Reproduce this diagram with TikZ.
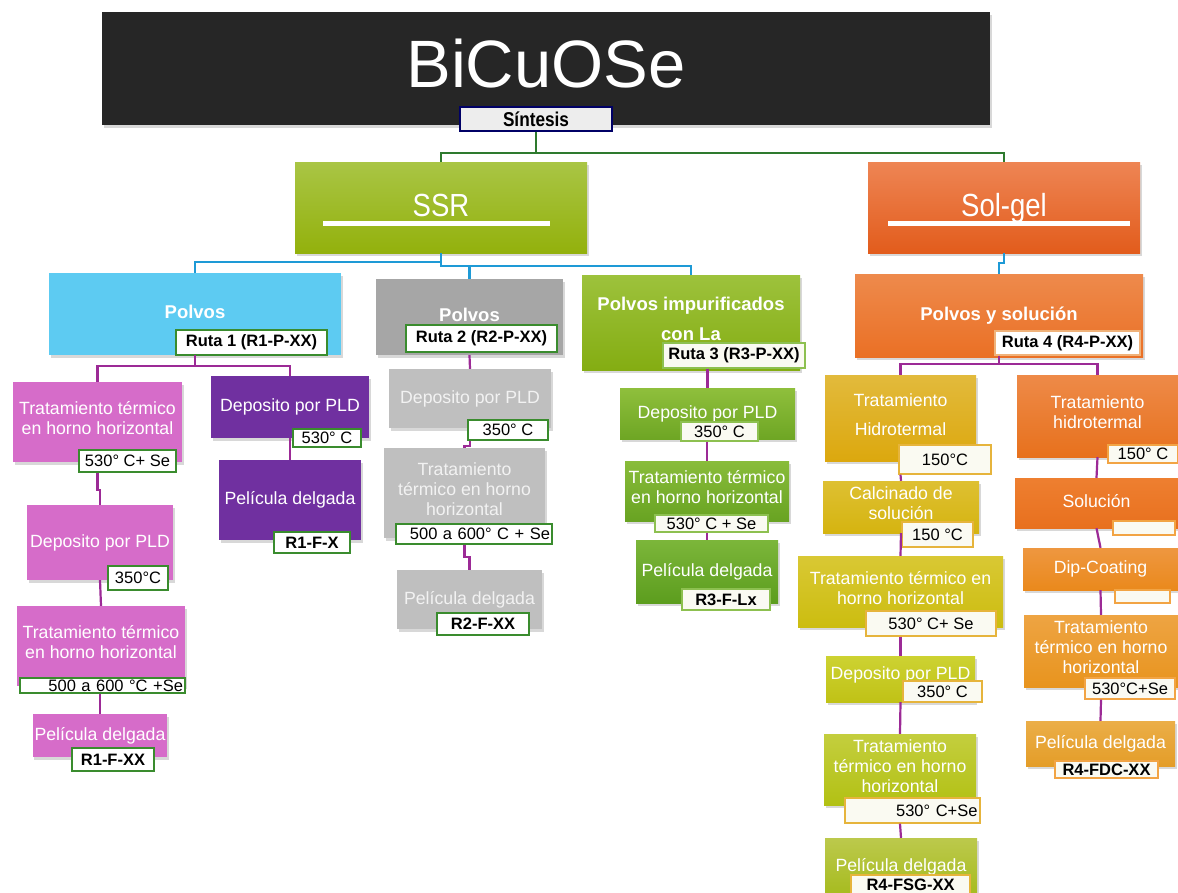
\documentclass[tikz,border=0pt]{standalone}
\usepackage{fontspec}
\setmainfont{Liberation Sans}
\newfontfamily\condfont[FakeStretch=0.86]{Liberation Sans}
\usetikzlibrary{shadows}
\newcommand\fsz[1]{\fontsize{#1}{\dimexpr #1pt*113/100\relax}\selectfont}
\newcommand\txtbeg{\rule{0pt}{17pt}}
\newcommand\txtend{\rule[-7.8pt]{0pt}{0pt}}
\definecolor{titlebg}{HTML}{262626}
\definecolor{gline}{HTML}{2E7A2E}
\definecolor{bline}{HTML}{1E9AD6}
\definecolor{pline}{HTML}{9C2A96}
\definecolor{labgreen}{HTML}{3A8C2E}
\definecolor{labltgreen}{HTML}{8DC050}
\definecolor{labgold}{HTML}{E6B43C}
\definecolor{laborange}{HTML}{F2A444}
\definecolor{labpeach}{HTML}{F0B27A}
\definecolor{labfill}{HTML}{FAFAF2}
\definecolor{pink}{HTML}{D66CC9}
\definecolor{violet}{HTML}{7030A0}
\definecolor{grayA}{HTML}{A6A6A6}
\definecolor{grayB}{HTML}{BFBFBF}
\definecolor{grayT}{HTML}{F2F2F2}
\definecolor{skyb}{HTML}{5DCBF2}
\definecolor{ssrA}{HTML}{A9C545}\definecolor{ssrB}{HTML}{93B10C}
\definecolor{solA}{HTML}{EE8554}\definecolor{solB}{HTML}{E25C1C}
\definecolor{pimA}{HTML}{9DC23C}\definecolor{pimB}{HTML}{84AD12}
\definecolor{pysA}{HTML}{EE8A4C}\definecolor{pysB}{HTML}{EA7025}
\definecolor{rtA}{HTML}{8FBF3C}\definecolor{rtB}{HTML}{6EA624}
\definecolor{rtC}{HTML}{89BC3A}\definecolor{rtD}{HTML}{68A322}
\definecolor{rtE}{HTML}{7CB63A}\definecolor{rtF}{HTML}{5C9D1E}
\definecolor{yA}{HTML}{E2BA3C}\definecolor{yB}{HTML}{DCA80E}
\definecolor{yC}{HTML}{DEC032}\definecolor{yD}{HTML}{D5B410}
\definecolor{yE}{HTML}{D9C834}\definecolor{yF}{HTML}{CCBD10}
\definecolor{yG}{HTML}{CDD232}\definecolor{yH}{HTML}{C0C216}
\definecolor{yI}{HTML}{C4CE3E}\definecolor{yJ}{HTML}{B2C114}
\definecolor{yK}{HTML}{BCC94C}\definecolor{yL}{HTML}{A6BB1E}
\definecolor{oA}{HTML}{EE8A48}\definecolor{oB}{HTML}{E7711D}
\definecolor{oC}{HTML}{EE7F30}\definecolor{oD}{HTML}{E8701E}
\definecolor{oE}{HTML}{EE9740}\definecolor{oF}{HTML}{EA891C}
\definecolor{oG}{HTML}{EEA443}\definecolor{oH}{HTML}{E8941E}
\definecolor{oI}{HTML}{EBAE48}\definecolor{oJ}{HTML}{E49D28}
\tikzset{
  boxbase/.style={rectangle, inner sep=2pt, align=center, text=white,
    drop shadow={opacity=0.3,shadow xshift=1.5pt,shadow yshift=-2.5pt}},
  box/.style={boxbase, font=\fsz{17.7}, execute at begin node=\txtbeg, execute at end node=\txtend},
  head/.style={box, font=\bfseries\fsz{18.5}},
  gbox/.style 2 args={box, top color=#1, bottom color=#2},
  lab/.style={rectangle, draw=labgreen, line width=1.4pt, fill=white, inner sep=0pt,
    text=black, font=\fsz{16.5}, align=center},
  blab/.style={lab, font=\bfseries\fsz{16.5}},
  gconn/.style={draw=gline, line width=2.2pt},
  bconn/.style={draw=bline, line width=2.2pt},
  pconn/.style={draw=pline, line width=2.2pt},
}
\begin{document}
\begin{tikzpicture}[x=1pt,y=-1pt]
\useasboundingbox (0,0) rectangle (1178,892);
\fill[white] (0,0) rectangle (1178,892);

% ---------- title ----------
\node[boxbase, fill=titlebg, minimum width=888pt, minimum height=113pt, font=\fsz{67}, text depth=10pt] (title) at (546,68.5) {BiCuOSe};
\node[rectangle, fill=black!7, draw=blue!40!black, line width=1.4pt, minimum width=152pt, minimum height=24pt, inner sep=0pt, font=\bfseries\condfont\fsz{20}] (sint) at (536,119) {Síntesis};

% ---------- level 1 ----------
\node[boxbase, top color=ssrA, bottom color=ssrB, minimum width=292pt, minimum height=91pt, font=\condfont\fsz{32}, text height=23pt, text depth=5pt] (ssr) at (441,207.5) {SSR};
\node[boxbase, top color=solA, bottom color=solB, minimum width=272pt, minimum height=91pt, font=\condfont\fsz{32}, text height=23pt, text depth=5pt] (solgel) at (1004,207.5) {Sol-gel};
\fill[white] (323,221) rectangle (550,226);
\fill[white] (888,221) rectangle (1130,226);

\draw[gconn] (sint.south) -- ++(0,21) -| (ssr.north);
\draw[gconn] (sint.south) -- ++(0,21) -| (solgel.north);

% ---------- level 2 ----------
\node[head, fill=skyb, minimum width=292pt, minimum height=82pt] (p1) at (195,314) {Polvos};
\node[blab, minimum width=151pt, minimum height=25pt] (p1lab) at (251.5,342.5) {Ruta 1 (R1-P-XX)};
\node[head, fill=grayA, minimum width=187pt, minimum height=76pt] (p2) at (469.5,317) {Polvos};
\node[blab, minimum width=151pt, minimum height=27pt] (p2lab) at (481.5,338.5) {Ruta 2 (R2-P-XX)};
\node[head, top color=pimA, bottom color=pimB, minimum width=218pt, minimum height=95pt] (p3) at (691,322.5) {Polvos impurificados\\[9pt]con La};
\node[blab, draw=labltgreen, fill=labfill, minimum width=142pt, minimum height=25pt] (p3lab) at (734,355.5) {Ruta 3 (R3-P-XX)};
\node[head, top color=pysA, bottom color=pysB, minimum width=288pt, minimum height=83pt] (p4) at (999,315.5) {Polvos y solución};
\node[blab, draw=labpeach, minimum width=145pt, minimum height=24pt] (p4lab) at (1067.5,343) {Ruta 4 (R4-P-XX)};

\draw[bconn] (ssr.south) -- ++(0,9) -| (p1.north);
\draw[bconn] (ssr.south) -- ++(0,13) -| (p2.north);
\draw[bconn] (ssr.south) -- ++(0,13) -| (p3.north);
\draw[bconn] (solgel.south) -- ++(0,10) -| (p4.north);

% ---------- route 1 ----------
\node[box, fill=pink, minimum width=169pt, minimum height=80pt] (t1) at (97.5,422) {Tratamiento térmico\\en horno horizontal};
\node[lab, minimum width=97pt, minimum height=22pt] (t1lab) at (127.5,461) {530° C+ Se};
\node[box, fill=violet, minimum width=158pt, minimum height=62pt] (d1) at (290,407) {Deposito por PLD};
\node[lab, minimum width=68pt, minimum height=18pt] (d1lab) at (327,438) {530° C};
\node[box, fill=violet, minimum width=142pt, minimum height=80pt] (f1) at (290,500) {Película delgada};
\node[blab, minimum width=76pt, minimum height=21pt] (f1lab) at (312,542.5) {R1-F-X};
\node[box, fill=pink, minimum width=146pt, minimum height=75pt] (d2) at (100,542.5) {Deposito por PLD};
\node[lab, minimum width=60pt, minimum height=24pt] (d2lab) at (138,578) {350°C};
\node[box, fill=pink, minimum width=168pt, minimum height=80pt] (t2) at (101,646) {Tratamiento térmico\\en horno horizontal};
\node[lab, minimum width=165pt, minimum height=15pt, text width=161pt, align=right] (t2lab) at (102.5,685.5) {500 a 600 °C +Se};
\node[box, fill=pink, minimum width=134pt, minimum height=43pt] (f2) at (100,735.5) {Película delgada};
\node[blab, minimum width=82pt, minimum height=23pt] (f2lab) at (113,759.5) {R1-F-XX};

\draw[pconn] (p1.south) -- ++(0,11) -| (t1.north);
\draw[pconn] (p1.south) -- ++(0,11) -| (d1.north);
\draw[pconn] (d1.south) -- (f1.north);
\draw[pconn] (t1.south |- t1lab.south) -- ++(0,17) -| (d2.north);
\draw[pconn] (d2.south) -- (t2.north);
\draw[pconn] (t2lab.south -| f2.north) -- (f2.north);

% ---------- route 2 ----------
\node[box, fill=grayB, text=grayT, minimum width=162pt, minimum height=59pt] (d3) at (470,398.5) {Deposito por PLD};
\node[lab, minimum width=80pt, minimum height=20pt] (d3lab) at (508,430) {350° C};
\node[box, fill=grayB, text=grayT, minimum width=161pt, minimum height=90pt] (t3) at (464.5,493) {Tratamiento\\térmico en horno\\horizontal};
\node[lab, minimum width=156pt, minimum height=20pt, text width=152pt, align=right] (t3lab) at (474,534) {500 a 600° C + Se};
\node[box, fill=grayB, text=grayT, minimum width=145pt, minimum height=59pt] (f3) at (469.5,599.5) {Película delgada};
\node[blab, minimum width=92pt, minimum height=22pt] (f3lab) at (483,624) {R2-F-XX};

\draw[pconn] (p2.south) -- (d3.north);
\draw[pconn] (d3.south |- d3lab.south) -- ++(0,5) -| (t3.north);
\draw[pconn] (t3lab.south -| t3.south) -- ++(0,12) -| (f3.north);

% ---------- route 3 ----------
\node[gbox={rtA}{rtB}, minimum width=175pt, minimum height=51pt] (d4) at (707.5,413.5) {Deposito por PLD};
\node[lab, draw=labltgreen, fill=labfill, minimum width=77pt, minimum height=19pt] (d4lab) at (719.5,431.5) {350° C};
\node[gbox={rtC}{rtD}, minimum width=164pt, minimum height=60pt] (t4) at (707,491) {Tratamiento térmico\\en horno horizontal};
\node[lab, draw=labltgreen, fill=labfill, minimum width=113pt, minimum height=17pt] (t4lab) at (711.5,523.5) {530° C + Se};
\node[gbox={rtE}{rtF}, minimum width=142pt, minimum height=63pt] (f4) at (707,571.5) {Película delgada};
\node[blab, draw=labltgreen, fill=labfill, minimum width=88pt, minimum height=21pt] (f4lab) at (726,599.5) {R3-F-Lx};

\draw[pconn] (p3lab.south -| d4.north) -- (d4.north);
\draw[pconn] (d4lab.south -| t4.north) -- (t4.north);
\draw[pconn] (t4lab.south -| f4.north) -- (f4.north);

% ---------- route 4 left ----------
\node[gbox={yA}{yB}, minimum width=151pt, minimum height=86pt] (h1) at (900.5,418) {Tratamiento\\[9pt]Hidrotermal};
\node[lab, draw=labgold, fill=labfill, minimum width=92pt, minimum height=29pt] (h1lab) at (945,459.5) {150°C};
\node[gbox={yC}{yD}, minimum width=156pt, minimum height=52pt] (c1) at (901,507) {Calcinado de\\solución};
\node[lab, draw=labgold, fill=labfill, minimum width=71pt, minimum height=25pt] (c1lab) at (937.5,534.5) {150 °C};
\node[gbox={yE}{yF}, minimum width=205pt, minimum height=71pt] (t5) at (900.5,591.5) {Tratamiento térmico en\\horno horizontal};
\node[lab, draw=labgold, fill=labfill, minimum width=130pt, minimum height=25pt] (t5lab) at (931,623.5) {530° C+ Se};
\node[gbox={yG}{yH}, minimum width=149pt, minimum height=46pt, execute at end node={\rule[-17pt]{0pt}{0pt}}] (d5) at (900.5,679) {Deposito por PLD};
\node[lab, draw=labgold, fill=labfill, minimum width=79pt, minimum height=21pt] (d5lab) at (942.5,691.5) {350° C};
\node[gbox={yI}{yJ}, minimum width=152pt, minimum height=71pt] (t6) at (900,769.5) {Tratamiento\\térmico en horno\\horizontal};
\node[lab, draw=labgold, fill=labfill, minimum width=135pt, minimum height=25pt, text width=130pt, align=right] (t6lab) at (912.5,810.5) {530° C+Se};
\node[gbox={yK}{yL}, minimum width=152pt, minimum height=58pt] (f5) at (901,867) {Película delgada};
\node[blab, draw=labgold, fill=labfill, minimum width=119pt, minimum height=20pt] (f5lab) at (910.5,885) {R4-FSG-XX};

\draw[pconn] (p4.south |- p4lab.south) -- ++(0,8) -| (h1.north);
\draw[pconn] (h1lab.south -| h1.south) -- (c1.north);
\draw[pconn] (c1.south) -- (t5.north);
\draw[pconn] (t5lab.south -| t5.south) -- (d5.north);
\draw[pconn] (d5.south) -- (t6.north);
\draw[pconn] (t6lab.south -| t6.south) -- (f5.north);

% ---------- route 4 right ----------
\node[gbox={oA}{oB}, minimum width=161pt, minimum height=82pt] (h2) at (1097.5,416) {Tratamiento\\hidrotermal};
\node[lab, draw=laborange, fill=labfill, minimum width=70pt, minimum height=18pt] (h2lab) at (1143,454) {150° C};
\node[gbox={oC}{oD}, minimum width=163pt, minimum height=50pt] (s) at (1096.5,503) {Solución};
\node[lab, draw=laborange, fill=labfill, minimum width=62pt, minimum height=14pt] (slab) at (1144,528) {};
\node[gbox={oE}{oF}, minimum width=155pt, minimum height=42pt] (dip) at (1100.5,569) {Dip-Coating};
\node[lab, draw=laborange, fill=labfill, minimum width=55pt, minimum height=13pt] (diplab) at (1142.5,596.5) {};
\node[gbox={oG}{oH}, minimum width=154pt, minimum height=72pt] (t7) at (1101,651) {Tratamiento\\térmico en horno\\horizontal};
\node[lab, draw=laborange, fill=labfill, minimum width=90pt, minimum height=21pt] (t7lab) at (1130,688.5) {530°C+Se};
\node[gbox={oI}{oJ}, minimum width=149pt, minimum height=45pt] (f6) at (1100.5,743.5) {Película delgada};
\node[blab, draw=laborange, fill=labfill, minimum width=103pt, minimum height=17pt] (f6lab) at (1106.5,769.5) {R4-FDC-XX};

\draw[pconn] (p4.south |- p4lab.south) -- ++(0,8) -| (h2.north);
\draw[pconn] (h2.south) -- (s.north);
\draw[pconn] (s.south) -- (dip.north);
\draw[pconn] (dip.south) -- (t7.north);
\draw[pconn] (t7lab.south -| t7.south) -- (f6.north);
\end{tikzpicture}
\end{document}
